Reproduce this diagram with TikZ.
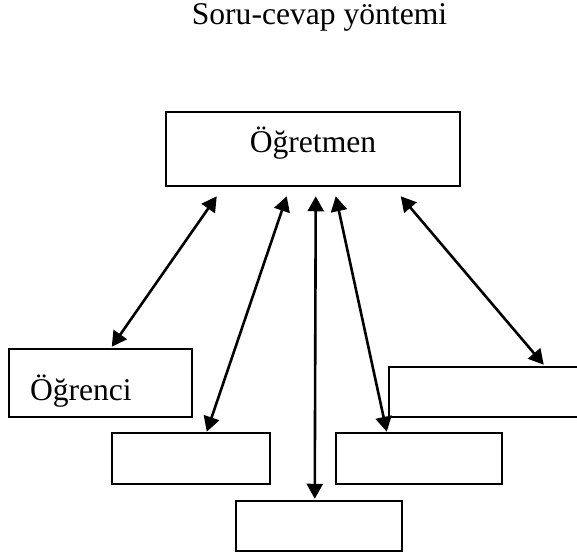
\documentclass[tikz,border=0pt]{standalone}
\usepackage{fontspec}
\setmainfont{Liberation Serif}
\usetikzlibrary{arrows.meta,calc}
\tikzset{
	diagram/.style={x=0.5pt,y=-0.5pt,>={Triangle[length=7.5pt,width=8pt]},
		line width=1.25pt,font=\fontsize{15.8}{19}\selectfont},
	role/.style={draw,rectangle,inner sep=0pt},
	blank/.style={role,minimum width=83pt,minimum height=25.5pt},
	link/.style={<->,line width=1.3pt}
}

\begin{document}
\begin{tikzpicture}[diagram]
	\useasboundingbox (0,0) rectangle (577,558);
	\clip (0,0) rectangle (577,558);
	
	\node[anchor=base] (title) at (319.5,24) {Soru-cevap yöntemi};
	
	\node[role,minimum width=147pt,minimum height=37pt,text height=14pt,text depth=11pt] (ogretmen) at (313,149) {Öğretmen};
	\node[role,minimum height=34pt,text width=70.5pt,inner xsep=10.5pt,align=left,text height=20.5pt,text depth=3.5pt] (ogr1) at (100.5,383) {Öğrenci};
	\node[blank,minimum width=79pt] (ogr2) at (191,458.5) {};
	\node[blank,minimum height=25pt] (ogr3) at (319,526) {};
	\node[blank] (ogr4) at (419,458.5) {};
	\node[blank,minimum width=110pt,minimum height=25pt] (ogr5) at (499,392) {};
	
	\path[link] ([shift={(52,9)}]ogretmen.south west) edge ([shift={(104,-1)}]ogr1.north west);
	\path[link] ([shift={(122,9)}]ogretmen.south west) edge ([shift={(96,0)}]ogr2.north west);
	\path[link] ([shift={(151,9)}]ogretmen.south west) edge ([shift={(80,-1)}]ogr3.north west);
	\path[link] ([shift={(171,9)}]ogretmen.south west) edge ([shift={(52,0)}]ogr4.north west);
	\path[link] ([shift={(236,9)}]ogretmen.south west) edge ([shift={(156,-1)}]ogr5.north west);
\end{tikzpicture}
\end{document}
